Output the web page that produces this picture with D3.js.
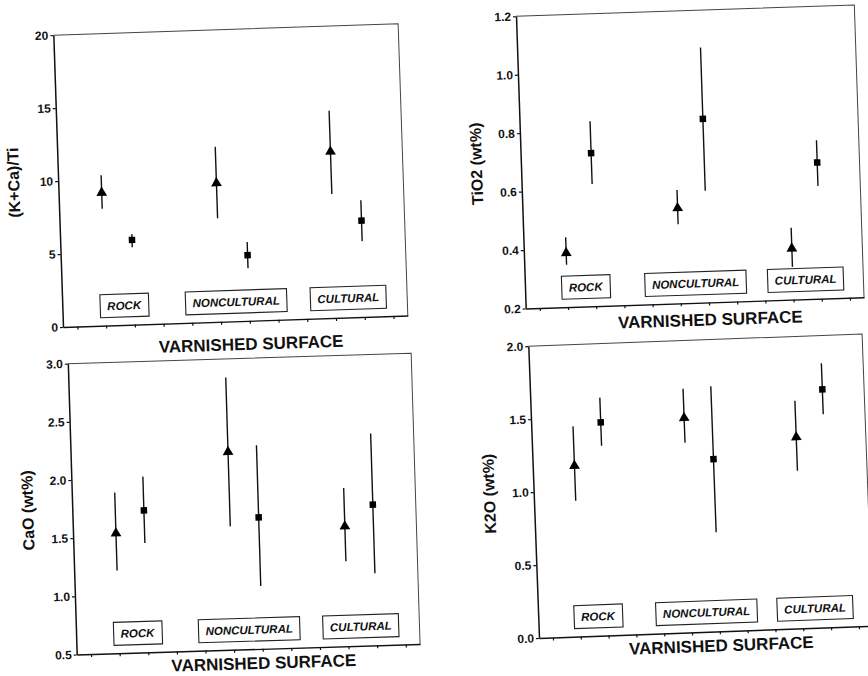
<!DOCTYPE html>
<html>
<head>
<meta charset="utf-8">
<script src="https://cdn.jsdelivr.net/npm/d3@7"></script>
<style>
  body { margin: 0; background: #fff; }
  svg { display: block; font-family: 'Liberation Sans', Arial, sans-serif; }
</style>
</head>
<body>
<div id="chart"></div>
<script>

// categories on the x axis, two samples (triangle / square) per category
var categories = ['ROCK', 'NONCULTURAL', 'CULTURAL'];
var xSlots = [0, 1, 2, 3, 4, 5, 6, 7, 8, 9, 10, 11];

// (K+Ca)/Ti
var kcaTriMean = [9.1, 9.5, 11.4];
var kcaTriLow  = [8.0, 7.1, 8.5];
var kcaTriHigh = [10.3, 12.0, 14.2];
var kcaSqMean  = [5.8, 4.5, 6.6];
var kcaSqLow   = [5.3, 3.6, 5.2];
var kcaSqHigh  = [6.2, 5.4, 8.0];
var kcaTicks   = [0, 5, 10, 15, 20];

// TiO2 (wt%)
var tioTriMean = [0.385, 0.526, 0.375];
var tioTriLow  = [0.345, 0.471, 0.312];
var tioTriHigh = [0.439, 0.588, 0.446];
var tioSqMean  = [0.724, 0.828, 0.666];
var tioSqLow   = [0.618, 0.582, 0.586];
var tioSqHigh  = [0.833, 1.072, 0.742];
var tioTicks   = [0.2, 0.4, 0.6, 0.8, 1.0, 1.2];

// CaO (wt%)
var caoTriMean = [1.53, 2.20, 1.53];
var caoTriLow  = [1.21, 1.56, 1.23];
var caoTriHigh = [1.88, 2.84, 1.86];
var caoSqMean  = [1.72, 1.63, 1.71];
var caoSqLow   = [1.44, 1.04, 1.12];
var caoSqHigh  = [2.01, 2.25, 2.32];
var caoTicks   = [0.5, 1.0, 1.5, 2.0, 2.5, 3.0];

// K2O (wt%)
var k2oTriMean = [1.17, 1.47, 1.31];
var k2oTriLow  = [0.93, 1.30, 1.08];
var k2oTriHigh = [1.44, 1.67, 1.56];
var k2oSqMean  = [1.46, 1.18, 1.63];
var k2oSqLow   = [1.30, 0.68, 1.46];
var k2oSqHigh  = [1.63, 1.68, 1.81];
var k2oTicks   = [0.0, 0.5, 1.0, 1.5, 2.0];

var W = 868, H = 676;

function translate(x, y) {
  return 'translate(' + x + ',' + y + ')';
}

function series(mean, low, high, offset) {
  return mean.map(function(m, i) {
    return { x: i * 4 + offset, mean: m, low: low[i], high: high[i] };
  });
}

// panels: origin is the bottom-left corner of the plot, the scan is slightly rotated
var panels = [
  { title: '(K+Ca)/Ti', ticks: kcaTicks, fmt: d3.format('d'),
    tri: series(kcaTriMean, kcaTriLow, kcaTriHigh, 1),
    sq: series(kcaSqMean, kcaSqLow, kcaSqHigh, 2),
    ox: 63, oy: 327, w: 345, h: 292, rot: -1.9, titleDy: 29 },
  { title: 'TiO2 (wt%)', ticks: tioTicks, fmt: d3.format('.1f'),
    tri: series(tioTriMean, tioTriLow, tioTriHigh, 1),
    sq: series(tioSqMean, tioSqLow, tioSqHigh, 2),
    ox: 525.7, oy: 308.5, w: 338.5, h: 292.4, rot: -1.9, titleDy: 23 },
  { title: 'CaO (wt%)', ticks: caoTicks, fmt: d3.format('.1f'),
    tri: series(caoTriMean, caoTriLow, caoTriHigh, 1),
    sq: series(caoSqMean, caoSqLow, caoSqHigh, 2),
    ox: 76.7, oy: 654.5, w: 343.5, h: 291, rot: -1.75, titleDy: 20 },
  { title: 'K2O (wt%)', ticks: k2oTicks, fmt: d3.format('.1f'),
    tri: series(k2oTriMean, k2oTriLow, k2oTriHigh, 1),
    sq: series(k2oSqMean, k2oSqLow, k2oSqHigh, 2),
    ox: 539, oy: 638, w: 334, h: 292, rot: -2.1, titleDy: 20 }
];

var svg = d3.select('#chart').append('svg')
  .attr('width', W)
  .attr('height', H);

svg.append('rect').attr('width', W).attr('height', H).attr('fill', '#fff');

panels.forEach(drawPanel);

function drawPanel(p) {

  var g = svg.append('g')
    .attr('transform', translate(p.ox, p.oy) + ' rotate(' + p.rot + ')');

  var x = d3.scaleLinear().domain([-0.5, 11.5]).range([0, p.w]);
  var y = d3.scaleLinear()
    .domain([p.ticks[0], p.ticks[p.ticks.length - 1]])
    .range([0, -p.h]);

  // frame (top / right)
  g.append('path')
    .attr('d', 'M0,' + (-p.h) + 'H' + p.w + 'V0')
    .attr('fill', 'none')
    .attr('stroke', '#444')
    .attr('stroke-width', 1);

  // x axis
  var xa = g.append('g')
    .call(d3.axisBottom(x).tickValues(xSlots).tickSize(3).tickSizeOuter(0).tickFormat(''));
  xa.select('.domain').attr('stroke', '#111').attr('stroke-width', 1.4);
  xa.selectAll('.tick line').attr('stroke', '#111').attr('stroke-width', 1.2);

  // y axis
  var ya = g.append('g')
    .call(d3.axisLeft(y).tickValues(p.ticks).tickSize(3).tickSizeOuter(0)
      .tickPadding(2).tickFormat(p.fmt));
  ya.select('.domain').attr('stroke', '#111').attr('stroke-width', 1.5);
  ya.selectAll('.tick line').attr('stroke', '#111').attr('stroke-width', 1.2);
  ya.selectAll('.tick text')
    .attr('fill', '#111')
    .style('font-family', "'Liberation Sans', Arial, sans-serif")
    .style('font-size', '12px')
    .style('font-weight', 'bold');

  // axis titles
  g.append('text')
    .attr('transform', translate(-39, -p.h / 2) + ' rotate(-90)')
    .attr('text-anchor', 'middle')
    .attr('fill', '#111')
    .style('font-size', '16px')
    .style('font-weight', 'bold')
    .text(p.title);

  g.append('text')
    .attr('x', p.w / 2 + 15)
    .attr('y', p.titleDy)
    .attr('text-anchor', 'middle')
    .attr('fill', '#111')
    .style('font-size', '17px')
    .style('font-weight', 'bold')
    .text('VARNISHED SURFACE');

  // category boxes
  var labels = g.selectAll('.cat')
    .data(categories)
    .enter().append('g')
    .attr('class', 'cat')
    .attr('transform', function(d, i) { return translate(x(i * 3.9 + 1.65), -19.5); });

  labels.append('text')
    .attr('text-anchor', 'middle')
    .attr('dy', '0.36em')
    .attr('fill', '#111')
    .style('font-size', '11.5px')
    .style('font-weight', 'bold')
    .style('font-style', 'italic')
    .text(function(d) { return d; });

  labels.insert('rect', 'text')
    .each(function() {
      var bb = this.parentNode.querySelector('text').getBBox();
      d3.select(this)
        .attr('x', bb.x - 7)
        .attr('width', bb.width + 14)
        .attr('y', -11.5)
        .attr('height', 23);
    })
    .attr('fill', '#fff')
    .attr('stroke', '#222')
    .attr('stroke-width', 1.1);

  // error bars
  var all = p.tri.concat(p.sq);
  g.selectAll('.err')
    .data(all)
    .enter().append('line')
    .attr('class', 'err')
    .attr('x1', function(d) { return x(d.x); })
    .attr('x2', function(d) { return x(d.x); })
    .attr('y1', function(d) { return y(d.low); })
    .attr('y2', function(d) { return y(d.high); })
    .attr('stroke', '#111')
    .attr('stroke-width', 1.4);

  // markers
  g.selectAll('.tri')
    .data(p.tri)
    .enter().append('path')
    .attr('class', 'tri')
    .attr('transform', function(d) { return translate(x(d.x), y(d.mean)); })
    .attr('d', d3.symbol(d3.symbolTriangle, 50))
    .attr('fill', '#000');

  g.selectAll('.sq')
    .data(p.sq)
    .enter().append('path')
    .attr('class', 'sq')
    .attr('transform', function(d) { return translate(x(d.x), y(d.mean)); })
    .attr('d', d3.symbol(d3.symbolSquare, 42))
    .attr('fill', '#000');

}

</script>
</body>
</html>
